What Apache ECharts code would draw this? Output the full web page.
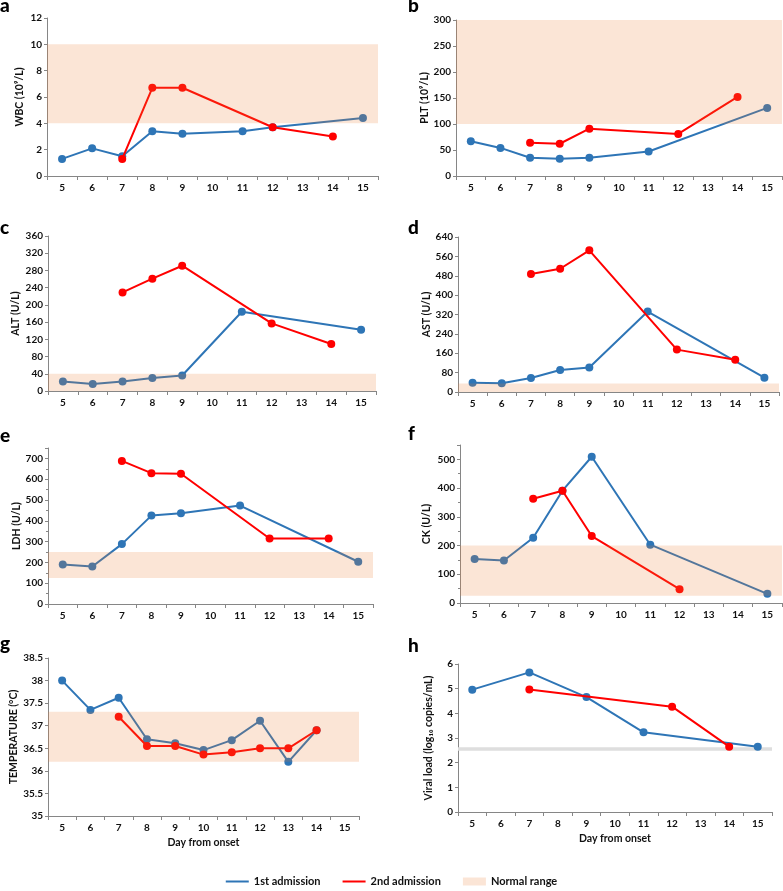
<!DOCTYPE html>
<html>
<head>
<meta charset="utf-8">
<script src="https://cdn.jsdelivr.net/npm/echarts@6/dist/echarts.min.js"></script>
<style>html,body{margin:0;padding:0;background:#fff}#c{width:783px;height:891px}</style>
</head>
<body>
<div id="c"></div>
<script>
// ---- data ----
const days = ['5','6','7','8','9','10','11','12','13','14','15'];
const wbc1 = [1.3, 2.1, 1.5, 3.4, 3.2, null, 3.4, 3.7, null, null, 4.4];
const wbc2 = [null, null, 1.3, 6.7, 6.7, null, null, 3.7, null, 3.0, null];
const plt1 = [67, 54, 35, 33, 35, null, 47, null, null, null, 131];
const plt2 = [null, null, 64, 62, 91, null, null, 81, null, 152, null];
const alt1 = [22, 16, 22, 30, 36, null, 184, null, null, null, 142];
const alt2 = [null, null, 229, 261, 291, null, null, 157, null, 109, null];
const ast1 = [38, 36, 58, 91, 101, null, 332, null, null, null, 59];
const ast2 = [null, null, 487, 509, 585, null, null, 175, null, 133, null];
const ldh1 = [190, 180, 288, 425, 436, null, 473, null, null, null, 203];
const ldh2 = [null, null, 688, 629, 626, null, null, 315, null, 315, null];
const ck1 = [153, 148, 227, 391, 509, null, 203, null, null, null, 32];
const ck2 = [null, null, 363, 391, 233, null, null, 48, null, null, null];
const temp1 = [38.0, 37.35, 37.62, 36.7, 36.61, 36.46, 36.68, 37.11, 36.2, 36.9, null];
const temp2 = [null, null, 37.2, 36.55, 36.55, 36.36, 36.41, 36.5, 36.5, 36.9, null];
const vl1 = [4.96, null, 5.66, null, 4.66, null, 3.23, null, null, null, 2.65];
const vl2 = [null, null, 4.97, null, null, null, null, 4.27, null, 2.65, null];

const panelLetters = ['a','b','c','d','e','f','g','h'];
const yNames = ['WBC (10\u2079/L)', 'PLT (10\u2079/L)', 'ALT (U/L)', 'AST (U/L)', 'LDH (U/L)', 'CK (U/L)', 'TEMPERATURE (\u00B0C)', 'Viral load (log\u2081\u2080 copies/mL)'];
const yMin = [0, 0, 0, 0, 0, 0, 35, 0];
const yMax = [12, 300, 360, 640, 750, 550, 38.5, 6];
const yStep = [2, 50, 40, 80, 100, 100, 0.5, 1];
const normLow = [4, 100, 0, 0, 125, 25, 36.2, 2.48];
const normHigh = [10, 300, 40, 35, 250, 200, 37.31, 2.62];
const first = [wbc1, plt1, alt1, ast1, ldh1, ck1, temp1, vl1];
const second = [wbc2, plt2, alt2, ast2, ldh2, ck2, temp2, vl2];

// ---- layout ----
const grids = [
  {left: 47, top: 18, width: 331, height: 158},
  {left: 456, top: 20, width: 326, height: 156},
  {left: 48, top: 236, width: 328, height: 155},
  {left: 458, top: 237, width: 321, height: 155},
  {left: 48, top: 448, width: 325, height: 156},
  {left: 460, top: 445, width: 322, height: 158},
  {left: 48, top: 658, width: 311, height: 158},
  {left: 458, top: 664, width: 314, height: 148}
];
const nameGaps = [22, 24, 27, 26, 26, 28, 27, 24];
const letterPos = [[0,-4],[408,-4],[0,218],[408,218],[0,426],[408,424],[0,634],[408,636]];

const FONT = 'Lato';
const BLUE = '#2e75b6', RED = '#ff0000', AXIS = '#868686', TXT = '#111';

const option = {
  animation: false,
  backgroundColor: '#fff',
  textStyle: {fontFamily: FONT},
  title: panelLetters.map((t, i) => ({
    text: t, left: letterPos[i][0], top: letterPos[i][1], padding: 0,
    textStyle: {fontFamily: FONT, fontSize: 19, fontWeight: 900, color: '#000'}
  })),
  legend: {
    top: 876, left: 'center', itemWidth: 23, itemHeight: 8, itemGap: 22, padding: 0,
    textStyle: {fontFamily: FONT, fontSize: 11, fontWeight: 'bold', color: TXT},
    data: [
      {name: '1st admission', icon: 'path://M0,0H23V2H0Z'},
      {name: '2nd admission', icon: 'path://M0,0H23V2H0Z'},
      {name: 'Normal range', icon: 'rect'}
    ]
  },
  grid: grids,
  xAxis: grids.map((g, i) => ({
    type: 'category', gridIndex: i, data: days, boundaryGap: true,
    name: i >= 6 ? 'Day from onset' : '', nameLocation: 'middle', nameGap: 21,
    nameTextStyle: {fontFamily: FONT, fontSize: 10.5, fontWeight: 'bold', color: TXT},
    axisLine: {lineStyle: {color: AXIS, width: 1}},
    axisTick: {show: true, length: 4, lineStyle: {color: AXIS}},
    axisLabel: {interval: 0, fontFamily: FONT, fontSize: 10, fontWeight: 'bold', color: TXT, margin: 7}
  })),
  yAxis: grids.map((g, i) => ({
    type: 'value', gridIndex: i, min: yMin[i], max: yMax[i], interval: yStep[i],
    name: yNames[i], nameLocation: 'middle', nameGap: nameGaps[i],
    nameTextStyle: {fontFamily: FONT, fontSize: 10.5, fontWeight: 'bold', color: TXT},
    splitLine: {show: false},
    axisLine: {show: true, lineStyle: {color: AXIS, width: 1}},
    axisTick: {show: true, length: 3, lineStyle: {color: AXIS}},
    minorTick: {show: i === 4 || i === 5, splitNumber: 2, length: 2, lineStyle: {color: AXIS}},
    axisLabel: {fontFamily: FONT, fontSize: 10, fontWeight: 'bold', color: TXT, margin: 5, showMaxLabel: !(i === 4 || i === 5)}
  })),
  series: []
};

grids.forEach((g, i) => {
  const isH = i === 7;
  option.series.push({
    name: '1st admission', type: 'line', xAxisIndex: i, yAxisIndex: i,
    data: first[i], connectNulls: true, symbol: 'circle', symbolSize: 8, z: 3,
    itemStyle: {color: BLUE}, lineStyle: {color: BLUE, width: 2},
    markArea: {
      silent: true, z: isH ? 1 : 10,
      itemStyle: {color: isH ? '#dedede' : 'rgba(237,125,49,0.2)'},
      data: [[{yAxis: normLow[i]}, {yAxis: normHigh[i]}]]
    }
  });
  option.series.push({
    name: '2nd admission', type: 'line', xAxisIndex: i, yAxisIndex: i,
    data: second[i], connectNulls: true, symbol: 'circle', symbolSize: 8, z: 4,
    itemStyle: {color: RED}, lineStyle: {color: RED, width: 2}
  });
});
option.series.push({
  name: 'Normal range', type: 'line', xAxisIndex: 0, yAxisIndex: 0, data: [],
  itemStyle: {color: '#fbe5d6'}
});

const chart = echarts.init(document.getElementById('c'), null, {renderer: 'canvas'});
chart.setOption(option);
</script>
</body>
</html>
